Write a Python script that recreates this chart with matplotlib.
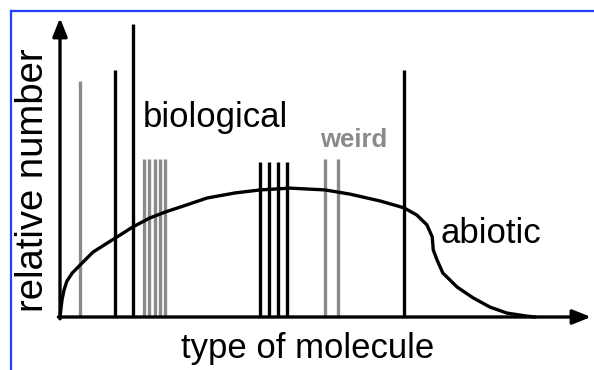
import matplotlib
matplotlib.use("Agg")
import matplotlib.pyplot as plt
from matplotlib.lines import Line2D

plt.rcParams["font.family"] = ["Liberation Sans", "DejaVu Sans"]

# peaks: position along "type of molecule" and relative number (0-100)
black_x = [10.4, 13.7, 37.7, 39.4, 41.1, 42.7, 64.8]
black_h = [82.6, 98.0, 52.0, 52.0, 52.0, 52.0, 82.6]
gray_x = [3.8, 15.8, 16.8, 17.9, 18.8, 19.8, 49.9, 52.4]
gray_h = [79.0, 53.0, 53.0, 53.0, 53.0, 53.0, 53.0, 53.0]

# abiotic background distribution
curve_x = [0.0, 0.19, 0.38, 0.75, 1.3, 2.3, 3.8, 6.2, 10.4, 13.7, 16.9, 19.8,
           23.2, 27.7, 33.0, 37.7, 43.3, 49.9, 54.6, 60.3, 64.8, 67.2, 69.1,
           70.1, 70.3, 71.0, 72.1, 74.8, 77.8, 81.0, 84.2, 87.9, 89.5]
curve_y = [0.0, 3.0, 5.7, 9.0, 12.0, 14.7, 17.4, 21.7, 26.4, 30.1, 33.1, 35.1,
           37.1, 39.8, 41.5, 42.5, 43.1, 42.5, 41.1, 38.8, 36.5, 34.1, 30.8,
           26.8, 22.4, 19.1, 14.7, 10.0, 6.4, 3.3, 1.3, 0.3, 0.0]

GRAY = "#8a8a8a"
LW = 2.4

fig = plt.figure(figsize=(5.94, 3.70), dpi=100)
ax = fig.add_axes([60 / 594, 53 / 370, 531 / 594, 299 / 370])
ax.set_xlim(0, 100)
ax.set_ylim(0, 100)
ax.axis("off")

ax.vlines(gray_x, 0, gray_h, color=GRAY, lw=LW, clip_on=False)
ax.vlines(black_x, 0, black_h, color="black", lw=LW, clip_on=False)
ax.plot(curve_x, curve_y, color="black", lw=LW, solid_capstyle="round",
        solid_joinstyle="round", clip_on=False)

# axes as arrows
arrow = dict(arrowstyle="-|>,head_length=0.55,head_width=0.22", color="black",
             lw=LW, shrinkA=0, shrinkB=0, mutation_scale=20)
ax.annotate("", xy=(0, 100), xytext=(0, -0.6), arrowprops=arrow)
ax.annotate("", xy=(100, 0), xytext=(-0.3, 0), arrowprops=arrow)

ax.text(15.6, 63.5, "biological", fontsize=25, va="baseline")
ax.text(49.0, 56.9, "weird", fontsize=18.5, fontweight="bold", color=GRAY,
        va="baseline")
ax.text(71.6, 24.7, "abiotic", fontsize=25, va="baseline")

fig.text(308 / 594, 1 - 358 / 370, "type of molecule", fontsize=25,
         ha="center", va="baseline")
fig.text(33 / 594, 1 - 180 / 370, "relative number", fontsize=27.5,
         ha="center", va="center", rotation=90)

# blue frame on top and left
fig.add_artist(Line2D([11 / 594, 1], [1 - 11 / 370, 1 - 11 / 370],
                      color="#2040ff", lw=1.6))
fig.add_artist(Line2D([11 / 594, 11 / 594], [0, 1 - 11 / 370],
                      color="#2040ff", lw=1.6))

fig.savefig("out.png", dpi=100)
